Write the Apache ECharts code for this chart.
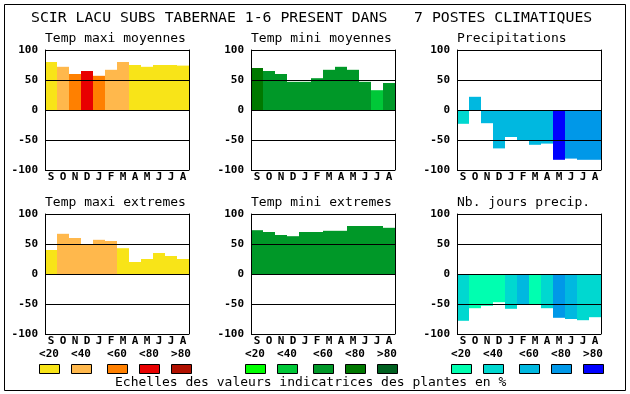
<!DOCTYPE html>
<html><head><meta charset="utf-8">
<script src="https://cdn.jsdelivr.net/npm/echarts@6/dist/echarts.min.js"></script>
<style>html,body{margin:0;padding:0;background:#fff;}#c{width:630px;height:394px;}</style>
</head><body><div id="c"></div>
<script>
const months = ['S','O','N','D','J','F','M','A','M','J','J','A'];
const yTicks = [-100,-50,0,50,100];

const tmaxMoy = [80,72,60,65,57,67,80,75,72,75,75,74];
const tmaxMoyCls = [0,1,2,3,2,1,1,0,0,0,0,0];
const tminMoy = [70,65,60,47,47,53,67,72,67,47,33,45];
const tminMoyCls = [3,2,2,2,2,2,2,2,2,2,1,2];
const precip = [-23,22,-22,-64,-45,-50,-58,-56,-83,-81,-83,-83];
const precipCls = [1,2,2,2,2,2,2,2,4,3,3,3];
const tmaxExt = [40,67,60,50,57,55,43,20,25,35,30,25];
const tmaxExtCls = [0,1,1,1,1,1,0,0,0,0,0,0];
const tminExt = [73,70,65,63,70,70,72,72,80,80,80,77];
const tminExtCls = [2,2,2,2,2,2,2,2,2,2,2,2];
const nbJours = [-78,-57,-53,-47,-58,-50,-50,-57,-73,-75,-77,-72];
const nbJoursCls = [1,0,0,0,1,2,0,1,3,2,1,1];

const legendLabels = ['<20','<40','<60','<80','>80'];
const maxPal = ['#f8e418','#ffb84c','#ff8000','#e80000','#b01000'];
const minPal = ['#00ff00','#00c838','#009828','#007800','#006020'];
const precPal = ['#00ffb0','#00d8d0','#00b8e0','#0098e8','#0000ff'];

const mainTitle = 'SCIR LACU SUBS TABERNAE 1-6 PRESENT DANS   7 POSTES CLIMATIQUES';
const footer = 'Echelles des valeurs indicatrices des plantes en %';

const panels = [
  {title:'Temp maxi moyennes', vals:tmaxMoy, cls:tmaxMoyCls, pal:maxPal, col:0, row:0},
  {title:'Temp mini moyennes', vals:tminMoy, cls:tminMoyCls, pal:minPal, col:1, row:0},
  {title:'Precipitations', vals:precip, cls:precipCls, pal:precPal, col:2, row:0},
  {title:'Temp maxi extremes', vals:tmaxExt, cls:tmaxExtCls, pal:maxPal, col:0, row:1},
  {title:'Temp mini extremes', vals:tminExt, cls:tminExtCls, pal:minPal, col:1, row:1},
  {title:'Nb. jours precip.', vals:nbJours, cls:nbJoursCls, pal:precPal, col:2, row:1}
];

const FONT = "'DejaVu Sans Mono', 'Liberation Mono', monospace";
const colLeft = [45, 251, 457];
const rowTop = [50, 214];
const grids = [], xAxes = [], yAxes = [], series = [], graphics = [];

panels.forEach((p, i) => {
  const left = colLeft[p.col], top = rowTop[p.row];
  grids.push({left: left, top: top, width: 144, height: 120, containLabel: false});
  xAxes.push({
    type: 'category', gridIndex: i, data: months, boundaryGap: true,
    axisLine: {show: false}, axisTick: {show: false}, splitLine: {show: false},
    axisLabel: {color: '#000', fontFamily: FONT, fontWeight: 'bold', fontSize: 11, margin: 2, interval: 0}
  });
  yAxes.push({
    type: 'value', gridIndex: i, min: -100, max: 100, interval: 50, z: 10,
    axisLine: {show: true, lineStyle: {color: '#000', width: 1}},
    axisTick: {show: false},
    axisLabel: {color: '#000', fontFamily: FONT, fontWeight: 'bold', fontSize: 11, margin: 7},
    splitLine: {show: true, lineStyle: {color: '#000', width: 1}}
  });
  yAxes.push({
    type: 'value', gridIndex: i, min: -100, max: 100, interval: 50, position: 'right', z: 10,
    axisLine: {show: true, onZero: false, lineStyle: {color: '#000', width: 1}},
    axisTick: {show: false}, axisLabel: {show: false}, splitLine: {show: false}
  });
  series.push({
    type: 'bar', xAxisIndex: i, yAxisIndex: yAxes.length - 2, barWidth: '100%', barCategoryGap: '0%',
    z: 2, silent: true,
    data: p.vals.map((v, k) => ({value: v, itemStyle: {color: p.pal[p.cls[k]]}}))
  });
  graphics.push({type: 'text', x: left, y: top - 11, silent: true,
    style: {text: p.title, font: "13px " + FONT, fill: '#000', textAlign: 'left', textVerticalAlign: 'middle'}});
});

graphics.push({type: 'text', x: 31, y: 18.5, silent: true,
  style: {text: mainTitle, font: "14.8px " + FONT, fill: '#000', textAlign: 'left', textVerticalAlign: 'middle'}});
graphics.push({type: 'text', x: 115, y: 382.5, silent: true,
  style: {text: footer, font: "13px " + FONT, fill: '#000', textAlign: 'left', textVerticalAlign: 'middle'}});
graphics.push({type: 'rect', silent: true, z: 0,
  shape: {x: 4.5, y: 4.5, width: 621, height: 386},
  style: {fill: 'none', stroke: '#000', lineWidth: 1}});

const legendBoxX = [
  [39, 71, 107, 139, 171],
  [245, 277, 313, 345, 377],
  [451, 483, 519, 551, 583]
];
const pals = [maxPal, minPal, precPal];
legendBoxX.forEach((xs, g) => {
  xs.forEach((x, k) => {
    graphics.push({type: 'rect', silent: true,
      shape: {x: x + 0.5, y: 364.5, width: 20, height: 9},
      style: {fill: pals[g][k], stroke: '#000', lineWidth: 1}});
    graphics.push({type: 'text', silent: true, x: x + 10, y: 354.5,
      style: {text: legendLabels[k], font: "bold 11px " + FONT, fill: '#000', textAlign: 'center', textVerticalAlign: 'middle'}});
  });
});

const chart = echarts.init(document.getElementById('c'), null, {renderer: 'canvas'});
chart.setOption({
  animation: false,
  backgroundColor: '#fff',
  textStyle: {fontFamily: FONT},
  grid: grids, xAxis: xAxes, yAxis: yAxes, series: series,
  graphic: graphics
});
</script></body></html>
